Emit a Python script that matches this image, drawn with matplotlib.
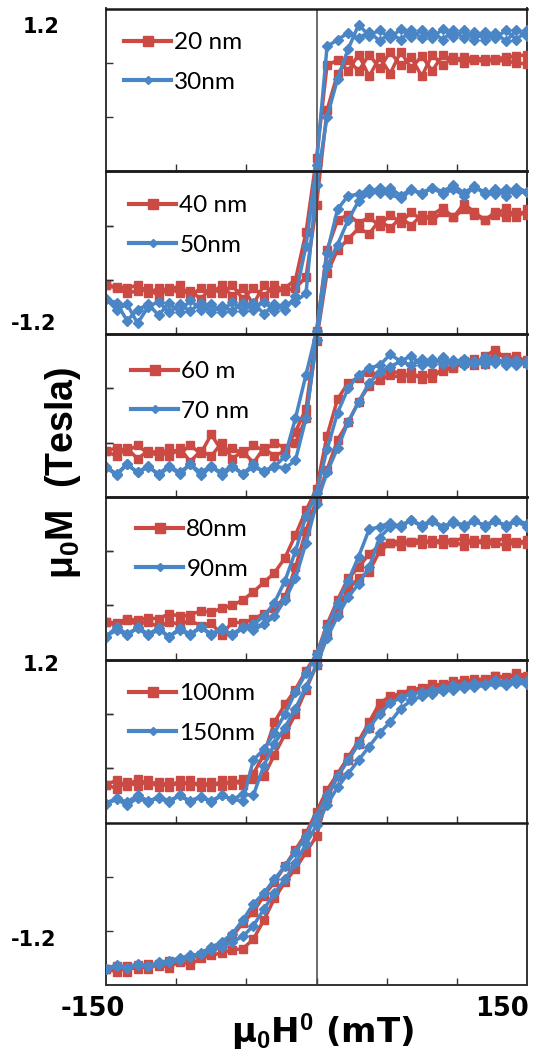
import matplotlib
matplotlib.use("Agg")
import matplotlib.pyplot as plt
from matplotlib.lines import Line2D
from matplotlib.font_manager import FontProperties

plt.rcParams['mathtext.fontset'] = 'custom'
plt.rcParams['mathtext.rm'] = 'Liberation Sans:bold'
plt.rcParams['mathtext.it'] = 'Liberation Sans:bold'
plt.rcParams['mathtext.bf'] = 'Liberation Sans:bold'
plt.rcParams['mathtext.default'] = 'rm'

# ---------------- data (field in mT, magnetisation in T) ----------------
H_up = [-150, -142.5, -135, -127.5, -120, -112.5, -105, -97.5, -90, -82.5, -75,
        -67.5, -60, -52.5, -45, -37.5, -30, -22.5, -15, -7.5, 0, 7.5, 15, 22.5,
        30, 37.5, 45, 52.5, 60, 67.5, 75, 82.5, 90, 97.5, 105, 112.5, 120, 127.5,
        135, 142.5, 150]
H_down = H_up[::-1]

# descending sweeps listed from +150 to -150 mT, ascending sweeps from -150 to +150 mT
r20_down = [0.79, 0.80, 0.81, 0.82, 0.83, 0.83, 0.84, 0.82, 0.86, 0.74, 0.85, 0.76, 0.88, 0.72, 0.84, 0.70, 0.86, 0.74, 0.82, 0.78, 0.10, -0.45, -0.80, -0.86, -0.90, -0.84, -0.98, -0.86, -0.92, -0.84, -0.90, -0.86, -0.92, -0.84, -0.88, -0.86, -0.90, -0.84, -0.86, -0.85, -0.84]
r20_up = [-0.84, -0.86, -0.90, -0.88, -0.86, -0.92, -0.86, -0.90, -0.88, -0.94, -0.86, -0.90, -0.84, -0.94, -0.86, -0.92, -0.84, -0.88, -0.86, -0.78, -0.25, 0.45, 0.72, 0.82, 0.74, 0.86, 0.76, 0.88, 0.78, 0.84, 0.70, 0.86, 0.78, 0.84, 0.80, 0.82, 0.81, 0.83, 0.84, 0.85, 0.86]
b30_down = [1.00, 1.04, 0.96, 1.02, 0.97, 1.03, 0.98, 1.04, 0.97, 1.03, 0.98, 1.04, 0.97, 1.02, 0.96, 1.03, 0.98, 1.02, 0.97, 0.92, 0.05, -0.55, -0.92, -1.02, -0.98, -1.05, -0.97, -1.03, -0.96, -1.04, -0.98, -1.02, -0.95, -1.04, -0.97, -1.06, -0.98, -1.02, -1.10, -0.97, -0.94]
b30_up = [-0.94, -1.02, -0.98, -1.12, -1.00, -0.96, -1.04, -0.98, -1.03, -0.97, -1.04, -0.99, -1.03, -0.97, -1.02, -0.96, -1.03, -0.98, -0.96, -0.90, -0.10, 0.40, 0.68, 0.90, 1.08, 1.00, 1.04, 0.98, 1.05, 0.99, 1.04, 0.98, 1.05, 0.99, 1.04, 0.97, 1.03, 0.98, 1.04, 0.97, 1.04]

r40_down = [0.92, 0.86, 0.93, 0.88, 0.84, 0.90, 0.96, 0.86, 0.93, 0.88, 0.84, 0.90, 0.82, 0.88, 0.80, 0.86, 0.82, 0.88, 0.84, 0.62, 0.02, -0.55, -0.72, -0.86, -0.90, -0.84, -0.95, -0.86, -0.92, -0.80, -0.90, -0.86, -0.94, -0.84, -0.90, -0.86, -0.88, -0.82, -0.86, -0.84, -0.86]
r40_up = [-0.86, -0.90, -0.84, -0.92, -0.86, -0.90, -0.84, -0.88, -0.82, -0.88, -0.74, -0.86, -0.84, -0.88, -0.82, -0.86, -0.80, -0.84, -0.80, -0.62, -0.05, 0.45, 0.62, 0.70, 0.78, 0.74, 0.84, 0.78, 0.86, 0.80, 0.88, 0.84, 0.90, 0.86, 0.92, 0.88, 0.84, 0.90, 0.86, 0.90, 0.88]
b50_down = [1.05, 1.08, 1.02, 1.07, 1.03, 1.09, 1.04, 1.10, 1.05, 1.08, 1.03, 1.07, 1.02, 1.08, 1.04, 1.07, 1.03, 1.02, 0.92, 0.60, 0.02, -0.30, -0.62, -0.90, -0.98, -1.02, -0.96, -1.03, -0.98, -1.04, -0.97, -1.02, -0.96, -1.03, -0.98, -1.04, -0.97, -1.02, -0.96, -1.03, -0.98]
b50_up = [-0.98, -1.04, -0.96, -1.02, -0.98, -1.03, -0.97, -1.02, -0.96, -1.04, -0.98, -1.02, -0.97, -1.03, -0.98, -1.01, -0.97, -0.99, -0.93, -0.62, -0.04, 0.50, 0.66, 0.84, 0.98, 1.04, 1.08, 1.03, 1.00, 1.06, 1.04, 1.08, 1.03, 1.07, 1.02, 1.08, 1.05, 1.03, 1.07, 1.04, 1.05]

r60_down = [0.99, 1.04, 1.02, 1.08, 1.04, 0.97, 1.00, 0.96, 0.94, 0.88, 0.90, 0.88, 0.91, 0.93, 0.90, 0.92, 0.88, 0.84, 0.72, 0.45, 0.06, -0.10, -0.28, -0.45, -0.56, -0.63, -0.70, -0.76, -0.80, -0.82, -0.85, -0.84, -0.87, -0.88, -0.86, -0.90, -0.89, -0.91, -0.90, -0.93, -0.92]
r60_up = [-0.92, -0.95, -0.91, -0.94, -0.92, -0.96, -0.92, -0.94, -0.91, -0.95, -0.93, -1.02, -0.92, -0.93, -0.90, -0.86, -0.82, -0.74, -0.52, -0.25, -0.02, 0.20, 0.42, 0.55, 0.70, 0.82, 0.86, 0.90, 0.88, 0.92, 0.87, 0.91, 0.93, 0.95, 0.99, 1.02, 0.98, 1.06, 1.03, 1.00, 1.01]
b70_down = [0.98, 1.01, 0.97, 1.02, 0.98, 1.00, 0.97, 1.01, 0.98, 1.02, 0.97, 1.04, 1.00, 1.05, 0.97, 0.95, 0.90, 0.80, 0.62, 0.35, 0.03, -0.14, -0.40, -0.62, -0.78, -0.88, -0.94, -0.97, -1.02, -0.97, -1.01, -0.96, -1.02, -0.98, -1.03, -0.97, -1.01, -0.96, -1.02, -0.98, -1.03]
b70_up = [-1.03, -0.96, -1.01, -0.97, -1.02, -0.98, -1.03, -0.97, -1.01, -0.96, -1.02, -0.98, -1.01, -0.96, -0.98, -0.94, -0.88, -0.76, -0.60, -0.34, -0.05, 0.18, 0.36, 0.55, 0.70, 0.84, 0.92, 0.96, 1.00, 0.97, 1.02, 0.98, 1.03, 0.99, 1.02, 0.98, 1.03, 0.99, 1.01, 0.97, 1.00]

r80_down = [0.88, 0.86, 0.90, 0.87, 0.89, 0.86, 0.90, 0.87, 0.89, 0.86, 0.89, 0.87, 0.88, 0.86, 0.84, 0.78, 0.68, 0.60, 0.44, 0.26, 0.04, -0.08, -0.22, -0.33, -0.46, -0.70, -0.84, -0.88, -0.92, -0.89, -0.94, -0.90, -0.93, -0.89, -0.94, -0.90, -0.92, -0.88, -0.93, -0.89, -0.92]
r80_up = [-0.92, -0.95, -0.90, -0.93, -0.89, -0.94, -0.90, -0.93, -0.89, -0.94, -0.90, -0.93, -0.89, -0.92, -0.88, -0.86, -0.70, -0.55, -0.40, -0.22, -0.04, 0.18, 0.36, 0.52, 0.60, 0.65, 0.80, 0.86, 0.84, 0.87, 0.85, 0.88, 0.85, 0.87, 0.84, 0.88, 0.85, 0.86, 0.84, 0.87, 0.85]
b90_down = [0.98, 1.02, 0.98, 1.03, 0.99, 1.02, 0.98, 1.01, 0.97, 1.02, 0.98, 1.03, 0.98, 1.01, 0.98, 0.96, 0.76, 0.58, 0.42, 0.24, 0.04, -0.10, -0.24, -0.40, -0.54, -0.66, -0.74, -1.04, -1.03, -1.00, -1.05, -1.01, -1.04, -1.00, -1.05, -1.02, -1.04, -1.00, -1.05, -1.02, -1.06]
b90_up = [-1.06, -1.03, -1.07, -1.02, -1.05, -1.01, -1.04, -1.00, -1.05, -1.01, -1.04, -1.00, -1.03, -0.99, -1.00, -0.78, -0.62, -0.50, -0.36, -0.20, -0.04, 0.16, 0.32, 0.46, 0.56, 0.68, 0.90, 0.98, 0.99, 1.03, 0.99, 1.03, 0.98, 1.02, 0.99, 1.03, 0.98, 1.02, 0.99, 1.03, 1.00]

r100_down = [1.08, 1.10, 1.06, 1.08, 1.05, 1.06, 1.03, 1.04, 1.01, 1.02, 0.99, 0.98, 0.95, 0.93, 0.88, 0.74, 0.60, 0.48, 0.36, 0.24, 0.08, -0.08, -0.20, -0.32, -0.44, -0.54, -0.66, -0.74, -0.84, -0.90, -0.94, -0.98, -1.00, -1.03, -1.02, -1.06, -1.04, -1.08, -1.06, -1.10, -1.08]
r100_up = [-1.08, -1.06, -1.10, -1.05, -1.08, -1.04, -1.07, -1.02, -1.05, -1.00, -0.98, -0.96, -0.94, -0.93, -0.86, -0.72, -0.56, -0.44, -0.34, -0.22, -0.10, 0.18, 0.34, 0.46, 0.58, 0.70, 0.84, 0.90, 0.94, 0.96, 0.98, 1.00, 1.02, 1.03, 1.05, 1.04, 1.06, 1.08, 1.07, 1.09, 1.06]
b150_down = [1.04, 1.06, 1.03, 1.05, 1.02, 1.03, 1.01, 1.01, 0.99, 0.98, 0.96, 0.95, 0.92, 0.88, 0.80, 0.70, 0.58, 0.46, 0.34, 0.20, 0.05, -0.10, -0.22, -0.32, -0.42, -0.52, -0.60, -0.72, -0.82, -0.88, -0.92, -0.96, -0.99, -1.01, -1.03, -1.04, -1.06, -1.05, -1.07, -1.06, -1.08]
b150_up = [-1.08, -1.05, -1.07, -1.04, -1.06, -1.03, -1.02, -1.00, -0.98, -0.97, -0.94, -0.92, -0.88, -0.84, -0.76, -0.64, -0.52, -0.42, -0.30, -0.16, -0.02, 0.13, 0.26, 0.36, 0.46, 0.56, 0.66, 0.74, 0.84, 0.90, 0.93, 0.95, 0.97, 0.98, 0.99, 1.00, 1.01, 1.02, 1.01, 1.03, 1.02]

red_labels = ['20 nm', '40 nm', '60 m', '80nm', '100nm']
blue_labels = ['30nm', '50nm', '70 nm', '90nm', '150nm']
red_series = [(r20_down, r20_up), (r40_down, r40_up), (r60_down, r60_up), (r80_down, r80_up), (r100_down, r100_up)]
blue_series = [(b30_down, b30_up), (b50_down, b50_up), (b70_down, b70_up), (b90_down, b90_up), (b150_down, b150_up)]

x_ticks = [-100, -50, 0, 50, 100]
y_ticks = [-0.8, -0.4, 0.4, 0.8]

# ---------------- style / layout ----------------
RED = '#CC4A44'
BLUE = '#4A86C6'
W, HP = 536, 1059
LEFT, RIGHT = 106, 527
TOP, STEP = 8.5, 162.8
legend_xy = [(124, 32), (129, 195), (131, 361), (136, 519), (129, 683)]

fig = plt.figure(figsize=(W / 100, HP / 100), dpi=100)
fig.patch.set_facecolor('white')

leg_font = FontProperties(family=['Lato', 'DejaVu Sans'], size=17.5)

for k in range(5):
    top = TOP + k * STEP
    bot = top + 2 * STEP
    ax = fig.add_axes([LEFT / W, 1 - bot / HP, (RIGHT - LEFT) / W, 2 * STEP / HP])
    ax.patch.set_visible(False)
    ax.set_xlim(-150, 150)
    ax.set_ylim(-1.2, 1.2)
    ax.spines['bottom'].set_position(('data', 0))
    ax.spines['bottom'].set_linewidth(1.8)
    ax.spines['bottom'].set_color('#1a1a1a')
    ax.spines['top'].set_linewidth(1.8)
    ax.spines['top'].set_color('#1a1a1a')
    for s in ('left', 'right'):
        ax.spines[s].set_linewidth(1.4)
        ax.spines[s].set_color('#333333')
    ax.set_xticks(x_ticks)
    ax.set_yticks(y_ticks)
    ax.tick_params(axis='x', direction='in', length=5, width=1.0, color='#333333',
                   labelbottom=False, top=False)
    ax.tick_params(axis='y', direction='in', length=5, width=1.0, color='#333333',
                   labelleft=False, right=False)
    ax.axvline(0, color='#444444', lw=1.1, zorder=1)

    if k == 4:
        sec = ax.secondary_xaxis('bottom')
        sec.set_xticks(x_ticks)
        sec.tick_params(axis='x', direction='in', length=5, width=1.0, color='#333333',
                        labelbottom=False)
        sec.spines['bottom'].set_linewidth(1.4)
        sec.spines['bottom'].set_color('#333333')

    rd, ru = red_series[k]
    bd, bu = blue_series[k]
    ax.plot(list(H_down) + list(H_up), list(rd) + list(ru), color=RED, lw=2.5,
            marker='s', ms=6.2, mfc=RED, mec=RED, zorder=3, clip_on=True)
    ax.plot(list(H_down) + list(H_up), list(bd) + list(bu), color=BLUE, lw=2.5,
            marker='D', ms=5.0, mfc=BLUE, mec=BLUE, zorder=4, clip_on=True)

    h_red = Line2D([], [], color=RED, lw=3.0, marker='s', ms=6.5, mfc=RED, mec=RED)
    h_blue = Line2D([], [], color=BLUE, lw=3.0, marker='D', ms=4.5, mfc=BLUE, mec=BLUE)
    lx, ly = legend_xy[k]
    ax.legend([h_red, h_blue], [red_labels[k], blue_labels[k]], loc='upper left',
              bbox_to_anchor=(lx / W, 1 - ly / HP), bbox_transform=fig.transFigure,
              frameon=False, borderpad=0, borderaxespad=0, handlelength=1.95,
              handletextpad=0.12, labelspacing=0.78, prop=leg_font)

num_font = dict(family='DejaVu Sans', fontweight='bold')
fig.text(41 / W, 1 - 27 / HP, '1.2', ha='center', va='center', fontsize=15, **num_font)
fig.text(34 / W, 1 - 324 / HP, '-1.2', ha='center', va='center', fontsize=15, **num_font)
fig.text(41 / W, 1 - 665 / HP, '1.2', ha='center', va='center', fontsize=15, **num_font)
fig.text(34 / W, 1 - 940 / HP, '-1.2', ha='center', va='center', fontsize=15, **num_font)
fig.text(93 / W, 1 - 1009 / HP, '-150', ha='center', va='center', fontsize=18.5, **num_font)
fig.text(502 / W, 1 - 1009 / HP, '150', ha='center', va='center', fontsize=18.5, **num_font)

fig.text(322 / W, 1 - 1043 / HP, 'μ$_0$H$^0$ (mT)', ha='center', va='baseline',
         fontsize=24.5, family='DejaVu Sans', fontweight='bold')
fig.text(63 / W, 1 - 473 / HP, 'μ$_0$M  (Tesla)', ha='center', va='center', rotation=90,
         fontsize=27, family='Liberation Sans', fontweight='bold')

fig.savefig('out.png', dpi=100, facecolor='white')
